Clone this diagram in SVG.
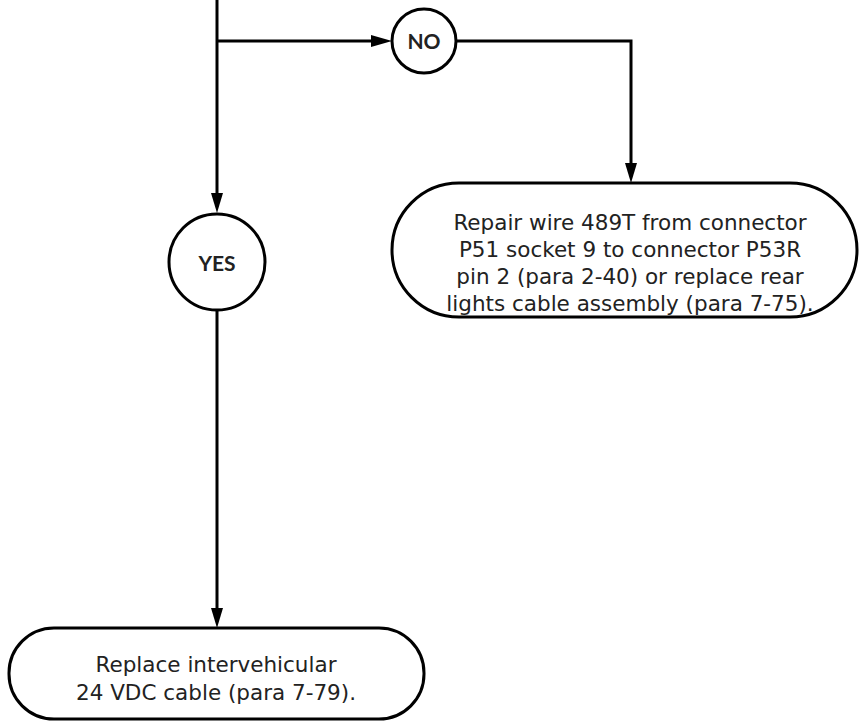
<svg xmlns="http://www.w3.org/2000/svg" width="860" height="723" viewBox="0 0 860 723">
<defs>
<style>
.ln{fill:none;stroke:#000;stroke-width:3}
.nd{fill:#fff;stroke:#000;stroke-width:3}
.ah{fill:#000}
.t{font-family:"DejaVu Sans",Verdana,sans-serif;font-size:21.5px;fill:#222;text-anchor:middle}
.c{font-family:Lato,"DejaVu Sans",sans-serif;font-size:21px;font-weight:bold;fill:#222;text-anchor:middle}
</style>
</defs>
<rect width="860" height="723" fill="#fff"/>
<g id="connectors">
<path class="ln" d="M217,0 V200"/>
<path class="ah" d="M211,193 L217,213 L223,193 z"/>
<path class="ln" d="M217,41 H380"/>
<path class="ah" d="M371,35 L392,41 L371,47 z"/>
<path class="ln" d="M456,41 H631 V170"/>
<path class="ah" d="M625,163 L631,183 L637,163 z"/>
<path class="ln" d="M217,311 V615"/>
<path class="ah" d="M211,608 L217,628 L223,608 z"/>
</g>
<g id="no">
<circle class="nd" cx="424" cy="41" r="32"/>
<text class="c" x="424" y="49">NO</text>
</g>
<g id="yes">
<circle class="nd" cx="217" cy="262" r="48"/>
<text class="c" x="217" y="271">YES</text>
</g>
<g id="repair">
<rect class="nd" x="392" y="183" width="465" height="134" rx="67" ry="67"/>
<text class="t" x="630" y="230">Repair wire 489T from connector</text>
<text class="t" x="630" y="257">P51 socket 9 to connector P53R</text>
<text class="t" x="630" y="284">pin 2 (para 2-40) or replace rear</text>
<text class="t" x="630" y="311">lights cable assembly (para 7-75).</text>
</g>
<g id="replace">
<rect class="nd" x="9" y="628" width="415" height="91" rx="45" ry="45"/>
<text class="t" x="216" y="672">Replace intervehicular</text>
<text class="t" x="216" y="700">24 VDC cable (para 7-79).</text>
</g>
</svg>
